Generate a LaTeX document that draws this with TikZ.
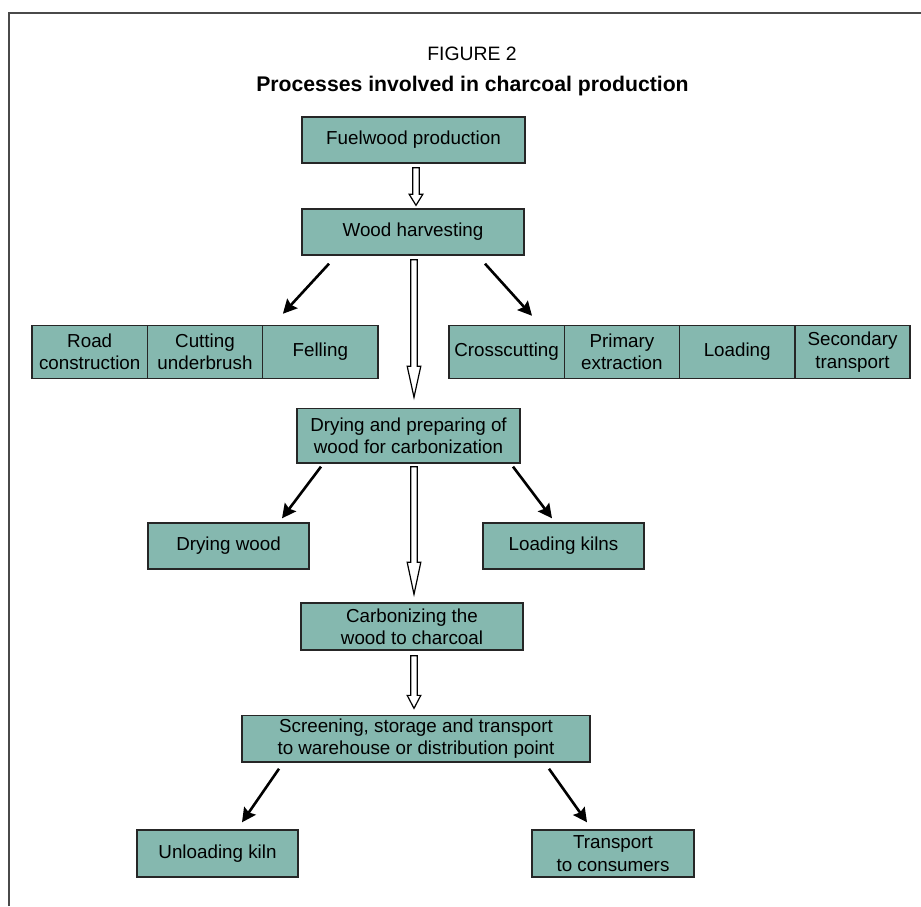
\documentclass[tikz,border=0pt]{standalone}
\usepackage{fontspec}
\setmainfont{Liberation Sans}
\usetikzlibrary{arrows.meta,positioning,calc}
\definecolor{boxfill}{HTML}{85B8AF}
\definecolor{framegray}{HTML}{4A4A4A}
\tikzset{procbox/.style={draw=black!85,line width=0.7pt,fill=boxfill,align=center,font=\fontsize{9.4}{11.2}\selectfont,inner sep=1pt},cellbox/.style={procbox,outer sep=0pt,minimum width=57.65pt,minimum height=26.75pt},procarr/.style={-{Stealth[length=7pt,width=7pt,inset=1pt]},line width=1.3pt},hollowarr/.style={draw=black,line width=0.6pt,fill=white}}
\newcommand{\hollowdown}[3]{\draw[hollowarr] let \p1=(#1),\p2=(#2) in (\x1-1.6pt,\y1) -- (\x1-1.6pt,\y2+#3) -- (\x1-3.4pt,\y2+#3) -- (\x1,\y2) -- (\x1+3.4pt,\y2+#3) -- (\x1+1.6pt,\y2+#3) -- (\x1+1.6pt,\y1) -- cycle;}
\begin{document}
\begin{tikzpicture}[x=0.5pt,y=-0.5pt]
\useasboundingbox (0,0) rectangle (921,906);
\draw[framegray,line width=1pt] (9.3,906) -- (9.3,13) -- (921,13);
\node[anchor=base,font=\fontsize{9.7}{12}\selectfont] (fignum) at (472,60) {FIGURE 2};
\node[anchor=base,font=\fontsize{10.6}{12}\selectfont\bfseries] (figtitle) at (472.5,91) {Processes involved in charcoal production};
\node[procbox,minimum width=111.5pt,minimum height=23pt] (fuel) at (413.5,140) {Fuelwood production};
\node[procbox,minimum width=111pt,minimum height=23pt] (wh) at (413,232) {Wood harvesting};
\node[cellbox] (road) at (89.7,352) {Road\\construction};
\node[cellbox,right=0pt of road] (cut) {Cutting\\underbrush};
\node[cellbox,right=0pt of cut] (fell) {Felling};
\node[cellbox] (cross) at (506.6,352) {Crosscutting};
\node[cellbox,right=0pt of cross] (prim) {Primary\\extraction};
\node[cellbox,right=0pt of prim] (load) {Loading};
\node[cellbox,right=0pt of load] (sec) {Secondary\\transport};
\node[procbox,minimum width=111.5pt,minimum height=27.25pt] (dry) at (408.5,435.7) {Drying and preparing of\\wood for carbonization};
\node[procbox,minimum width=80.5pt,minimum height=23pt] (drywood) at (228.5,546) {Drying wood};
\node[procbox,minimum width=80.5pt,minimum height=23pt] (loadk) at (563.5,546) {Loading kilns};
\node[procbox,minimum width=111pt,minimum height=23.5pt] (carb) at (412,626.5) {Carbonizing the\\wood to charcoal};
\node[procbox,minimum width=174pt,minimum height=23.25pt] (screen) at (416,738.8) {Screening, storage and transport\\to warehouse or distribution point};
\node[procbox,minimum width=80.5pt,minimum height=23.5pt] (unload) at (217.5,853.5) {Unloading kiln};
\node[procbox,minimum width=81pt,minimum height=23.5pt] (transp) at (613,853.5) {Transport\\to consumers};
\hollowdown{[xshift=1.25pt,yshift=-2pt]fuel.south}{[yshift=1.5pt]wh.north}{5.5pt}
\hollowdown{[xshift=0.5pt,yshift=-2pt]wh.south}{[yshift=5.25pt]dry.north}{15.5pt}
\hollowdown{[xshift=2.75pt,yshift=-1.5pt]dry.south}{[yshift=4pt]carb.north}{16pt}
\hollowdown{[xshift=1pt,yshift=-2.5pt]carb.south}{[yshift=3.25pt]screen.north}{6.5pt}
\draw[procarr] ([xshift=-42pt,yshift=-4pt]wh.south) -- ([xshift=-18.7pt,yshift=5.75pt]fell.north);
\draw[procarr] ([xshift=36pt,yshift=-4pt]wh.south) -- ([xshift=12.7pt,yshift=4.75pt]cross.north);
\draw[procarr] ([xshift=-43.75pt,yshift=-1.5pt]dry.south) -- ([xshift=26.75pt,yshift=2pt]drywood.north);
\draw[procarr] ([xshift=52.25pt,yshift=-1.5pt]dry.south) -- ([xshift=-5.75pt,yshift=2pt]loadk.north);
\draw[procarr] ([xshift=-68.5pt,yshift=-3pt]screen.south) -- ([xshift=12.25pt,yshift=3.5pt]unload.north);
\draw[procarr] ([xshift=66.5pt,yshift=-3pt]screen.south) -- ([xshift=-13pt,yshift=3.5pt]transp.north);
\end{tikzpicture}
\end{document}
